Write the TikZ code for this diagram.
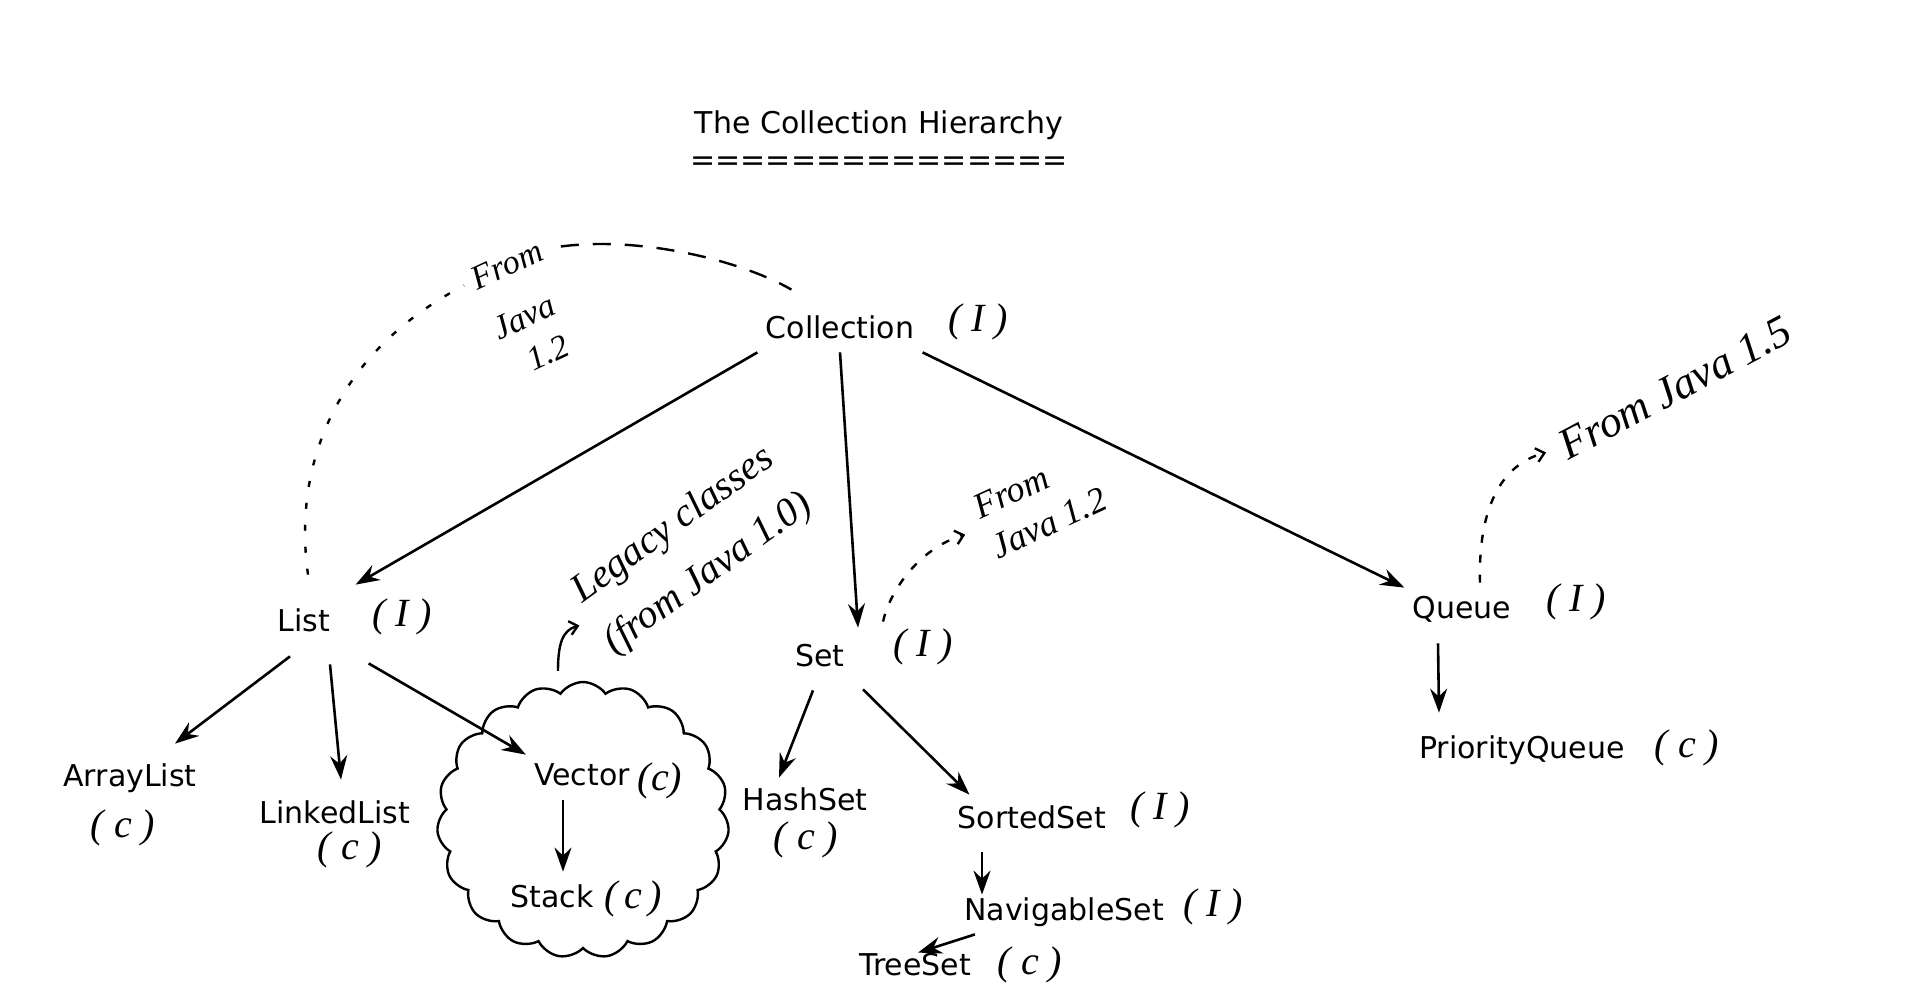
\documentclass[tikz,border=0pt]{standalone}
\usepackage{fontspec}
\setmainfont{DejaVu Sans}
\newfontfamily\handfont{Liberation Serif}
\usetikzlibrary{arrows.meta,shapes.symbols}

\begin{document}
\begin{tikzpicture}[
        x=0.5pt, y=-0.5pt,
        every node/.style={font=\fontsize{15}{18.5}\selectfont},
        clase/.style={inner sep=4pt, text height=11pt, text depth=3pt},
        marca/.style={font=\handfont\itshape\fontsize{20}{22}\selectfont, inner sep=0pt},
        nota/.style={font=\handfont\itshape\fontsize{20}{30}\selectfont, inner sep=0pt},
        flecha/.style={-{Stealth[length=12pt, width=8.5pt, inset=4pt]}, line width=1.3pt},
        punteada/.style={line width=1.2pt, dash pattern=on 3pt off 8pt},
        guiones/.style={line width=1.2pt, dash pattern=on 9pt off 7pt},
        trazos/.style={line width=1.2pt, dash pattern=on 4pt off 6pt},
        flechita/.style={-{Straight Barb[length=4pt, width=7pt]}}
    ]
    \useasboundingbox (0,0) rectangle (1920,991);

    % Título
    \node[align=center] (titulo) at (879,141) {The Collection Hierarchy\\===============};

    % Interfaces
    \node[clase] (collection) at (840,330) {Collection};
    \node[clase] (list) at (304,623) {List};
    \node[clase] (set) at (820,658) {Set};
    \node[clase] (queue) at (1462,610) {Queue};
    \node[clase] (sortedSet) at (1032,820) {SortedSet};
    \node[clase] (navigableSet) at (1064,912) {NavigableSet};

    % Nube de clases legadas
    \node[cloud, draw, line width=1.2pt, cloud puffs=19, cloud puff arc=110, cloud ignores aspect,
          minimum width=146pt, minimum height=138pt] (legado) at (583,820) {};

    % Clases
    \node[clase] (arrayList) at (130,778) {ArrayList};
    \node[clase] (linkedList) at (335,815) {LinkedList};
    \node[clase] (vector) at (582,777) {Vector};
    \node[clase] (stack) at (552,899) {Stack};
    \node[clase] (hashSet) at (805,802) {HashSet};
    \node[clase] (treeSet) at (915,967) {TreeSet};
    \node[clase] (priorityQueue) at (1522,750) {PriorityQueue};

    % Marcas (I) y (c)
    \node[marca] (collectionI) at (978,322) {( I )};
    \node[marca] (listI) at (402,617) {( I )};
    \node[marca] (setI) at (923,647) {( I )};
    \node[marca] (queueI) at (1576,602) {( I )};
    \node[marca] (sortedSetI) at (1160,810) {( I )};
    \node[marca] (navigableSetI) at (1213,907) {( I )};
    \node[marca] (arrayListC) at (123,828) {( c )};
    \node[marca] (linkedListC) at (350,850) {( c )};
    \node[marca] (vectorC) at (660,781) {(c)};
    \node[marca] (stackC) at (633,899) {(\,c\,)};
    \node[marca] (hashSetC) at (806,840) {( c )};
    \node[marca] (treeSetC) at (1030,965) {( c )};
    \node[marca] (priorityQueueC) at (1687,748) {( c )};

    % Notas
    \node[nota, font=\handfont\itshape\fontsize{17}{20}\selectfont, rotate=25] (notaFrom) at (507,265) {From};
    \node[nota, font=\handfont\itshape\fontsize{17}{20}\selectfont, rotate=25] (notaJava) at (524,317) {Java};
    \node[nota, font=\handfont\itshape\fontsize{17}{20}\selectfont, rotate=25] (notaVersion) at (548,353) {1.2};
    \node[nota, font=\handfont\itshape\fontsize{18}{22}\selectfont, rotate=25, align=left] (notaSet) at (1040,503) {From\\Java 1.2};
    \node[nota, font=\handfont\itshape\fontsize{22}{26}\selectfont, rotate=28] (notaQueue) at (1675,388) {From Java 1.5};
    \node[nota, rotate=36, align=center] (notaLegado) at (691,550) {Legacy classes\\(from Java 1.0)};

    % Aristas
    \draw[flecha] (collection.south west) -- ([shift={(17,-16)}]list.north east);
    \draw[flecha] (collection.south) -- ([shift={(5,-8)}]set.north east);
    \draw[flecha] (collection.south east) -- (queue.north west);
    \draw[flecha] ([shift={(-14,11)}]list.south) -- ([shift={(45,-12)}]arrayList.north);
    \draw[flecha] ([shift={(26,19)}]list.south) -- ([shift={(6,-13)}]linkedList.north);
    \draw[flecha] ([shift={(30,18)}]list.south east) -- (vector.north west);
    \draw[flecha] ([shift={(-19,1)}]vector.south) -- ([shift={(11,-5)}]stack.north);
    \draw[flecha] ([shift={(-7,10)}]set.south) -- ([shift={(-26,-2)}]hashSet.north);
    \draw[flecha] ([shift={(10,9)}]set.south east) -- ([shift={(20,-3)}]sortedSet.north west);
    \draw[flecha] ([shift={(-50,10)}]sortedSet.south) -- ([shift={(-82,5)}]navigableSet.north);
    \draw[flecha] ([shift={(19,0)}]navigableSet.south west) -- ([shift={(3,8)}]treeSet.north);
    \draw[flecha] ([shift={(-24,11)}]queue.south) -- ([shift={(-83,-15)}]priorityQueue.north);

    % Curvas de las notas
    \draw[punteada, shorten >=5pt] ([shift={(4,-26)}]list.north) .. controls (292,460) and (340,350) .. (notaFrom.west);
    \draw[guiones, shorten <=10pt] (notaFrom.east) .. controls (640,236) and (740,260) .. ([shift={(34,-18)}]collection.north west);
    \draw[trazos, flechita, shorten >=10pt] ([shift={(30,-14)}]set.north east) .. controls (890,590) and (920,548) .. (notaSet.west);
    \draw[trazos, flechita, shorten >=8pt] ([shift={(18,-5)}]queue.north) .. controls (1478,510) and (1500,465) .. (notaQueue.west);
    \draw[line width=1.2pt, flechita, shorten >=6pt] ([shift={(-25,-10)}]legado.north) .. controls (558,645) and (562,630) .. (notaLegado.west);
\end{tikzpicture}
\end{document}
